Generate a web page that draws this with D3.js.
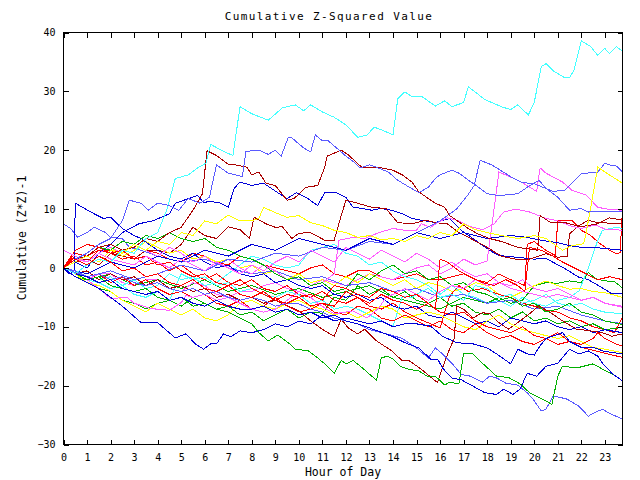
<!DOCTYPE html>
<html><head><meta charset="utf-8">
<script src="https://cdn.jsdelivr.net/npm/d3@7"></script>
<style>
body{margin:0;background:#fff}
svg{display:block;background:#fff}
text{font-family:"DejaVu Sans Mono","Liberation Mono",monospace;fill:#000}
</style>
</head><body>
<svg id="chart" width="640" height="480"></svg>
<script>
// ---- data: [hour, cumulative value] ----
const xTickValues = d3.range(0, 24);
const yTickValues = [-30,-20,-10,0,10,20,30,40];

const cyan1 = [[0,0],[0.5,-1],[1,0.5],[1.5,1.5],[2,1],[2.5,3],[3,2.5],[3.5,5],[4,6],[4.4,10],[4.75,15.2],[5.3,15.8],[5.7,17],[6.05,17.8],[6.25,21],[6.7,20],[7.2,19.1],[7.5,27.4],[8,26.2],[8.7,25.1],[9.3,27.2],[9.85,27.7],[10.2,26.7],[10.5,27.7],[11,26.5],[11.5,25.6],[12,24.3],[12.5,22.2],[12.9,22.6],[13.2,23.9],[13.5,23.5],[14,22.6],[14.2,28.7],[14.5,29.9],[14.8,29.1],[15.2,29.2],[15.8,27.5],[16.2,28.4],[16.5,27.4],[17,28.1],[17.2,30.8],[17.9,28.6],[18.6,27.4],[19,26.9],[19.3,27.7],[19.75,26],[20,28.1],[20.3,34.2],[20.5,34.7],[20.8,33.5],[21.3,32.3],[21.5,32.3],[21.7,33.7],[22,38.6],[22.4,37.6],[22.7,36.1],[23,37.3],[23.2,36.4],[23.5,37.6],[23.75,36.8]];
const cyan2 = [[0,0],[0.5,-1],[1,-0.5],[1.5,-2],[2,-1.5],[2.5,-3],[3,-2],[3.5,-3.5],[4,-3],[4.5,-1],[5,-2],[5.5,-1.5],[6,-3],[6.5,-2.5],[7,-1],[7.5,0.5],[8,2],[8.5,1.5],[9,0.5],[9.5,0],[10,0.5],[10.5,3],[11,3.5],[11.5,4],[12,2.5],[12.5,2],[13,0.5],[13.5,1],[14,-0.5],[14.5,-1.5],[15,-2],[15.5,-3],[16,-4.5],[16.5,-3],[17,-4.5],[17.5,-5],[18,-6],[18.5,-5.5],[19,-6.5],[19.5,-5],[20,-6],[20.5,-6.5],[21,-5.5],[21.5,-5],[21.9,-3.9],[22.3,0],[22.7,4.7],[22.9,6.4],[23.5,6.9],[23.75,6.7]];
const cyan3 = [[0,0],[0.5,-1],[1,-2],[1.5,-2.5],[2,-3.5],[2.5,-3],[3,-4.5],[3.5,-5],[4,-4],[4.5,-5.5],[5,-1],[5.5,-2],[6,-1.5],[6.5,-3],[7,-2.5],[7.5,-4],[8,-3.5],[8.5,-4.5],[9,-5],[9.5,-4],[10,-4.5],[10.5,-6],[11,-5.5],[11.5,-7],[12,-6.5],[12.5,-7],[13,-8],[13.5,-9],[14,-9.9],[14.4,-4.8],[14.8,-5],[15.2,-4],[15.5,-3.5],[16,-5],[16.5,-4.5],[17,-5.5],[17.5,-3],[18,-3.5],[18.5,-5],[19,-4.5],[19.5,-6],[20,-5.5],[20.5,-4.5],[21,-6],[21.5,-6.5],[22,-6],[22.5,-7],[23,-7.5],[23.75,-7.8]];

const lightBlue1 = [[0,0],[0.5,1.5],[1,2.5],[1.5,4],[2,5],[2.5,8],[2.8,11.5],[3.3,11],[3.6,9.8],[4,11],[4.5,10.6],[4.9,9.8],[5.3,11.8],[5.8,11],[6.2,12],[6.5,17.5],[7,16.1],[7.6,15.5],[7.75,19.8],[8.3,20],[8.7,19.3],[9,20],[9.25,19],[9.55,22.2],[9.7,22.1],[10.2,20.4],[10.5,19.7],[10.7,22.6],[11,21.6],[11.25,21.6],[12,19],[12.4,17.8],[12.6,17],[13,17.5],[13.3,17.1],[13.8,16.3],[14.2,14.9],[14.7,13.7],[15.1,12.8],[15.5,13.7],[15.8,15.2],[16,15.8],[16.5,16.6],[16.8,16.1],[17.2,14.9],[17.5,14.1],[18,12.6],[18.5,12.3],[19.3,12.6],[19.7,13.7],[20.2,14.9],[20.5,13.5],[21,12],[21.5,9.8],[22,10.1],[22.3,9.5],[23,9.6],[23.75,9.5]];
const lightBlue2 = [[0,0],[1,-1.5],[2,-0.5],[3,-2],[4,-1],[5,0.5],[6,-0.5],[7,1.5],[8,1],[9,2.5],[10,2],[11,3.5],[12,3],[13,4.5],[14,4],[15,6],[16,8],[16.7,10],[17.2,12.5],[17.45,14],[17.7,18.3],[18.2,17.5],[19,15.5],[19.5,14.5],[20,14.3],[20.5,13.5],[20.8,13],[21.3,13.2],[21.6,14.4],[22,16],[22.7,16.3],[23,17.8],[23.2,17.5],[23.5,17.3],[23.75,16.3]];
const lightBlue3 = [[0,0],[0.5,-0.5],[1,-1.5],[1.5,-1],[2,-2],[2.5,-1.5],[3,-2.5],[3.5,-3],[4,-2.5],[4.5,-3.5],[5,-4],[5.5,-3.5],[6,-4.5],[6.5,-4],[7,-5],[7.5,-5.5],[8,-5],[8.5,-5.5],[9,-6.5],[9.5,-6],[10,-6.1],[10.5,-7],[11,-7.5],[11.5,-8.5],[12,-9],[12.5,-9.5],[13,-10.5],[13.5,-11],[14,-11.5],[14.4,-12],[15,-13.6],[15.5,-15.3],[15.8,-13.6],[16.1,-14.6],[16.5,-16.2],[16.9,-18.1],[17.3,-18.4],[17.8,-19.4],[18.1,-18.4],[18.4,-18.7],[18.8,-19.6],[19.3,-19.9],[19.7,-21.2],[19.95,-22.3],[20.3,-24.3],[20.5,-24],[20.8,-21.8],[21.1,-22],[21.4,-22.3],[21.9,-23.5],[22.3,-25.2],[22.5,-24.7],[22.9,-24],[23.2,-24.7],[23.75,-25.7]];
const lightBlue4 = [[0,7.5],[0.3,6.7],[0.6,5.2],[1,6],[1.3,6.9],[1.8,6],[2,5.2],[2.5,5],[2.8,3.5],[3.3,3],[4,2],[5,1],[6,1.5],[7,0],[8,-1],[9,-0.5],[10,-2],[11,-1.5],[12,-3],[13,-2.5],[14,-4],[15,-3.5],[16,-5],[17,-4.5],[18,-6],[19,-5.5],[20,-7],[21,-6.5],[22,-8],[23,-9],[23.75,-9.5]];

const darkRed1 = [[0,0],[0.5,1.5],[1,2],[1.5,3.5],[2,4],[2.5,3],[3,3.5],[3.5,5],[4,4.5],[4.5,6],[5,6.9],[5.5,9.8],[5.9,12.6],[6.1,19.9],[6.5,19.1],[7,17.6],[7.3,17.5],[7.8,17.1],[8,15.8],[8.3,16.3],[8.6,14.4],[9,14],[9.5,11.5],[9.8,11.8],[10.3,13.7],[10.8,14],[11.1,17.1],[11.2,19],[11.8,20],[12.1,19.2],[12.4,18.1],[12.7,17],[13,17.1],[13.4,17.1],[14,16.6],[14.4,15.8],[14.8,14.6],[15.1,12.9],[15.5,11.8],[15.8,11],[16.2,10.3],[16.4,8.9],[16.7,8.1],[17.2,6.7],[17.6,5.8],[18.1,5],[18.6,4.5],[19.3,3.5],[19.8,3.2],[20.15,3],[20.25,8.9],[20.7,7.7],[21.3,7.7],[22,7],[22.7,7.5],[23.2,8.5],[23.75,8.1]];
const darkRed2 = [[0,0],[0.5,1],[1,1.5],[1.5,0.5],[2,2.5],[2.5,2],[3,1.5],[3.5,3],[4,3],[4.5,2.5],[5,4],[5.5,6.9],[6,5.5],[6.5,5],[7,7],[7.5,6.5],[7.9,5],[8.1,8.6],[8.6,7.5],[9,6.9],[9.3,7],[9.7,5],[10,5.9],[10.5,6],[11.1,4.7],[11.5,4.7],[11.8,8.9],[12,11.5],[12.4,11.1],[13.1,10.3],[13.7,10.1],[14.2,7.7],[14.8,7.5],[15.4,8.1],[15.8,7.7],[16.3,7.5],[16.8,6],[17.3,5],[18,3.5],[18.6,2],[19.3,1.4],[19.8,1.5],[20.5,2.4],[21,1.8],[21.4,2],[21.5,5.8],[21.9,7.2],[22.3,8.1],[22.7,7.7],[23.3,7.6],[23.75,7.6]];
const darkRed3 = [[0,0],[0.5,-1],[1,-0.5],[1.5,-2],[2,-1],[2.5,-2],[3,-1.5],[3.5,-3],[4,-2],[4.5,-3.5],[5,-3],[5.5,-4],[6,-3.5],[6.5,-5],[7,-4.5],[7.5,-5.5],[8,-5],[8.5,-6],[9,-5.5],[9.5,-6.4],[10,-7.3],[10.5,-9],[11.1,-10.7],[11.5,-11.6],[11.8,-8.7],[12.1,-10.2],[12.5,-11.2],[12.8,-10.4],[13.3,-12.4],[13.95,-14.1],[14.4,-15.8],[14.7,-15.8],[15.2,-17.2],[15.8,-19.2],[15.9,-19.4],[16.1,-17],[16.4,-13.8],[16.6,-12],[16.7,-6.4],[17,-7],[17.4,-8.5],[17.8,-7.6],[18.1,-7.8],[18.5,-9.3],[18.9,-10.4],[19.3,-9.3],[19.8,-7.8],[20.2,-6.4],[20.7,-7.6],[21.2,-9],[21.8,-10.4],[22.4,-10.7],[22.9,-11],[23.3,-11.6],[23.75,-11.2]];

const blue1 = [[0,0],[0.5,1],[1,0],[1.5,2.5],[2,4],[2.5,6],[3.2,7.5],[3.8,8],[4.5,9.2],[4.75,11],[5.7,12.3],[5.95,11.1],[6.2,11.3],[6.6,11.1],[7,10.3],[7.25,13.5],[7.5,14.6],[8,14],[8.5,14.4],[9.1,12.8],[9.5,11.8],[9.9,12.8],[10.3,12],[10.8,10.6],[11.1,12.8],[11.6,12.8],[12,12],[12.3,10.3],[12.7,10.1],[13.1,9.8],[13.5,10.1],[13.95,9.8],[14.4,9.2],[14.8,8.4],[15.2,8.1],[15.8,7.7],[16.4,8.4],[16.9,6.4],[17.5,4.7],[18.1,3],[18.5,2.1],[19.3,1.8],[20,1.5],[20.5,1.6],[21.3,-0.1],[21.9,-1.6],[22.3,-2],[22.9,-3.4],[23.3,-4.4],[23.75,-4.4]];
const blue2 = [[0,0],[0.25,-1],[0.45,-0.5],[0.5,11],[0.9,10.1],[1.3,9.2],[1.7,8.4],[2,8.6],[2.5,6.7],[3,5.5],[3.3,5],[3.6,4.1],[4,3],[4.5,2],[5,1.5],[5.5,2.5],[6,1],[6.5,0],[7,0.5],[7.5,-1],[8,-1.5],[8.5,-1],[9,-2.5],[9.5,-2],[10,-3],[10.5,-3.5],[11,-3],[11.5,-4.5],[12,-5],[12.5,-4.5],[13,-5.5],[13.5,-5],[14,-6.5],[14.5,-7],[15,-6.5],[15.5,-8],[16,-8.5],[16.5,-7.5],[17,-8.5],[17.5,-9.5],[18,-9],[18.5,-10],[19,-8.5],[19.5,-9],[20,-9.5],[20.5,-9],[21,-10],[21.5,-10.5],[22,-10],[22.5,-11],[23,-10.5],[23.75,-11]];
const blue3 = [[0,0],[1,-1],[2,1],[3,0],[4,2],[5,1],[6,3],[7,2],[8,4],[9,3],[10,5],[11,4],[12,3],[13,5],[14,4],[15,6],[16,5],[17,6],[18,5],[19,5.5],[19.7,5.2],[20.3,4.7],[21,4.3],[21.5,3.8],[22,3.5],[22.5,3.5],[23,3.3],[23.75,3]];
const blue4 = [[0,0],[0.5,-1],[1,-1.5],[1.5,-2.5],[2,-2],[2.5,-3.5],[3,-4],[3.5,-4.5],[4,-4],[4.5,-5.5],[5,-5],[5.5,-6],[6,-6.5],[6.5,-5.5],[7,-6.5],[7.5,-7],[8,-7],[8.5,-6.5],[9,-7.5],[9.5,-7],[10,-8],[10.5,-7.5],[11,-8.5],[11.5,-8],[12,-9],[12.5,-9.5],[13,-10.2],[13.95,-11.6],[14.5,-12.7],[15.1,-13.6],[15.6,-15.5],[15.9,-15.5],[16.1,-17],[16.5,-18.7],[16.9,-19],[17.4,-20.1],[17.9,-21.2],[18.4,-21.5],[18.7,-20.6],[19.1,-21.5],[19.4,-20.6],[19.7,-17.9],[20.1,-18.4],[20.5,-16.7],[21,-16.2],[21.5,-13.8],[21.9,-14.6],[22.3,-14.1],[22.7,-15],[22.9,-16.2],[23.3,-17.9],[23.75,-19.2]];
const blue5 = [[0,0],[0.5,-1.5],[1,-2.5],[1.5,-3.5],[2,-5],[2.5,-6.5],[3.3,-9.3],[4,-9.3],[4.75,-11.9],[5.2,-11.2],[5.6,-12.9],[5.95,-13.8],[6.25,-12.9],[6.5,-12.9],[6.8,-11.2],[7.1,-11.7],[7.5,-10.7],[8,-11],[8.5,-10.5],[9,-9.5],[9.5,-10],[10,-9],[10.5,-9.5],[11,-8],[11.5,-9],[12,-8.5],[12.5,-9],[13,-9.5],[13.5,-9],[14,-10],[14.5,-9.5],[15,-9.5],[15.6,-9.9],[16.1,-11.6],[16.7,-12.7],[17.4,-12.9],[18,-13.6],[18.4,-14.6],[19,-16.3],[19.3,-13.8],[19.7,-14.6],[20,-14.8],[20.25,-13.2],[20.5,-12],[21.2,-11],[21.5,-12.5],[22,-13.5],[22.5,-13.5],[23,-14.2],[23.75,-14.6]];

const yellow1 = [[0,0],[0.5,1],[1,2],[1.5,1],[2,3],[2.5,2.5],[3,4],[3.5,3],[4,4.5],[4.5,4],[5,6],[5.5,5.5],[6,8],[6.5,7.5],[7,9],[7.5,8],[8,8],[8.3,8.4],[8.5,10.3],[9,9.4],[9.5,8.6],[10,8.9],[10.5,7.7],[11,7.2],[11.5,6.4],[12,6],[12.5,5.2],[13,5.5],[13.5,4.8],[14,5],[14.5,4.5],[15,5.5],[15.5,5],[16,6],[16.5,5.5],[17,7.5],[17.5,6.5],[18,6],[18.6,5.5],[19.3,5],[20,5.5],[20.5,5],[21.2,3],[21.6,3.8],[22.1,4.1],[22.2,5.8],[22.7,17.1],[23,16.3],[23.75,14.4]];
const yellow2 = [[0,0],[0.5,1.5],[1,1],[1.5,2.5],[2,3.5],[2.5,2],[3,3],[3.5,4.5],[4,3.5],[4.5,2.5],[5,3],[5.5,1.5],[6,2],[6.5,1],[7,1.5],[7.5,0],[8,0.5],[8.5,-1],[9,-0.5],[9.5,-2],[10,-1],[10.5,-2.5],[11,-2],[11.5,-3],[12,-1.5],[12.5,-2.5],[13,-1],[13.5,-2],[14,-3],[14.5,-2],[15,-3.5],[15.5,-2.5],[16,-3],[16.5,-4],[17,-3.5],[17.5,-2.5],[18,-3],[18.5,-4.5],[19,-5],[19.5,-4],[20,-3],[20.5,-2.2],[21,-3],[21.5,-3.6],[22,-3.5],[22.5,-4],[23,-4.2],[23.75,-5]];
const yellow3 = [[0,0],[0.5,-1],[1,-2.5],[1.5,-3],[2,-4],[2.5,-5.5],[3,-6.5],[3.5,-7.5],[4,-6],[4.5,-7],[5,-8],[5.5,-7],[6,-8.5],[6.5,-9],[7,-8],[7.5,-6],[8,-5.5],[8.5,-6.5],[9,-7],[9.5,-6],[10,-5.5],[10.5,-6.5],[11,-7],[11.5,-8],[12,-7.5],[12.5,-8.5],[13,-7.5],[13.5,-6.5],[14,-7],[14.5,-8.5],[15,-8],[15.5,-7.5],[16,-8],[16.5,-9],[17,-10],[17.5,-10.5],[18,-9],[18.5,-8],[19,-9.5],[19.5,-10.5],[20,-11],[20.5,-11.5],[21,-12],[21.5,-11.5],[22,-12.5],[22.5,-13.5],[23,-13.8],[23.75,-14.4]];

const magenta1 = [[0,0],[0.5,-1],[1,-2],[1.5,-1],[2,-1],[2.5,-2.5],[3,-3],[3.5,-2],[4,-2],[4.5,-3.5],[5,-4],[5.5,-2.5],[6,-3],[6.5,-4.5],[7,-5],[7.5,-4],[8,-4],[8.5,-3],[9,-2.5],[9.5,-3.5],[10,-4],[10.5,-3],[11,-2],[11.5,-2.5],[12,-3],[12.5,-2],[13,-1],[13.5,-1.5],[14,-2],[14.5,-1],[15,0],[15.5,0.5],[16,-1],[16.5,0],[17,1.5],[17.5,0.5],[18,1.2],[18.5,16.3],[19.3,14.9],[19.7,14],[20.1,13],[20.25,17],[20.5,16.1],[21.2,14.6],[21.6,13.2],[22.2,12.4],[22.7,10.3],[23.1,10],[23.75,9.8]];
const magenta2 = [[0,0],[0.5,1.5],[1,1],[1.5,2.5],[2,3.5],[2.5,2.5],[3,4],[3.5,3],[4,2],[4.5,3.5],[5,2.5],[5.5,1],[6,2],[6.5,0.5],[7,1.5],[7.5,0],[8,-1],[8.5,0.5],[9,-0.5],[9.5,-2],[10,-1.5],[10.5,-3],[11,-2.5],[11.5,-1],[11.7,4.7],[12.3,5.2],[12.8,5],[13.4,6],[14,6.7],[14.5,6.4],[15,6.4],[15.2,7.5],[15.6,6.9],[15.9,7.7],[16.3,8.5],[16.8,8],[17.3,7],[17.8,6.5],[18.3,7.5],[18.7,9.5],[19.2,10],[19.8,9.5],[20.5,8.4],[21,8],[21.5,7.2],[22,6.7],[22.6,7.3],[23,6.6],[23.75,6.4]];
const magenta3 = [[0,0],[0.5,-1],[1,-2],[1.5,-3.5],[2,-5.2],[2.7,-5],[3,-6],[3.7,-6.9],[4.5,-7.2],[5,-5.9],[5.2,-4.7],[5.5,-5],[6,-4.5],[6.5,-5.5],[7,-5],[7.5,-6],[8,-7],[8.5,-7.5],[9,-7],[9.5,-5.5],[10,-4],[10.5,-5],[10.8,-6],[11.5,-7.8],[12.3,-7.3],[12.9,-8.5],[13.4,-6.8],[13.7,-5],[14,-4.5],[14.5,-3.5],[15,-4.5],[15.5,-5.5],[16,-4],[16.5,-3],[17,-3.5],[17.5,-2],[18,-3],[18.5,-2.5],[19,-3.5],[19.5,-4],[20,-4.5],[20.5,-5],[21,-4.5],[21.5,-5],[22,-5.5],[22.5,-5],[23,-6],[23.75,-6.7]];
const magenta4 = [[0,3],[0.5,2],[1,1],[1.5,2.5],[2,1.5],[3,0.5],[3.5,2],[4,1],[4.5,0],[5,1.5],[5.5,0.5],[6,-0.5],[6.5,1],[7,0],[7.5,-1],[8,0.5],[8.5,-0.5],[9,1],[9.5,2],[10,1],[10.5,3],[11,2],[11.5,1],[12,3.5],[12.5,2.5],[13,1.5],[13.5,3],[14,2],[14.5,1],[15,2.5],[15.5,1.5],[16,0],[16.5,1],[17,-0.5],[17.5,-1.5],[18,-1],[18.5,-2.5],[19,-3],[19.5,-2],[20,-3.5],[20.5,-4],[21,-3.5],[21.5,-4.5],[22,-5.5],[22.5,-5],[23,-6],[23.75,-6.5]];

const green1 = [[0,0],[1,-2],[2,-1],[3,-3],[4,-2],[5,-3.5],[6,-2],[7,-4],[8,-3],[9,-4.5],[10,-3.5],[11,-5],[12,-4],[13,-3],[14,-5],[15,-6],[16,-7],[17,-5],[18,-6],[18.5,-5],[19,-6],[19.5,-5.5],[20,-3],[20.5,-2.5],[21,-2.6],[21.5,-2.2],[22,-2.5],[22.3,-0.8],[22.6,-1.8],[23,-2.2],[23.4,-2.3],[23.75,-3.4]];
const green2 = [[0,0],[0.5,-1.5],[1,-2],[1.5,-3.5],[2,-4],[2.5,-5.5],[3,-6],[3.5,-7],[4,-6],[4.5,-5.5],[5,-6.5],[5.5,-5],[6,-6],[6.5,-7],[7,-6.5],[7.5,-8],[8,-7.5],[8.5,-9],[9,-8],[9.5,-7],[10,-8.5],[10.5,-7.5],[11,-7.7],[11.5,-5],[12,-5.5],[12.5,-3],[13,-4.5],[13.5,-3.5],[14,-5],[14.5,-4],[15,-5.5],[15.5,-6],[16,-5],[16.5,-6.5],[17,-6],[17.5,-7.5],[18,-8],[18.5,-7],[19,-8.5],[19.5,-7.5],[20,-9],[20.5,-8.5],[21,-9.5],[21.5,-9],[22,-10],[22.5,-9.5],[23,-10.5],[23.75,-10.1]];
const green3 = [[0,0],[0.5,1],[1,2],[1.5,3.5],[2,3],[2.5,4.5],[3,4],[3.5,5.5],[4,5],[4.5,6],[5,5],[5.5,4.5],[6,5],[6.5,3.5],[7,3],[7.5,2],[8,1.5],[8.5,0.5],[9,-1],[9.5,-2],[10,-1.5],[10.5,-3],[11,-2.5],[11.5,-4],[12,-3.5],[12.5,-1],[13,-2],[13.5,-0.5],[14,0.5],[14.5,-1],[15,-0.5],[15.5,-2],[16,-1.5],[16.5,-3],[17,-2.5],[17.5,-4],[18,-4.5],[18.5,-5.5],[19,-5],[19.5,-6.5],[20,-6],[20.5,-7.5],[21,-7],[21.5,-6],[22,-7.5],[22.5,-8],[23,-9],[23.75,-9.6]];
const green4 = [[0,0],[0.5,-1],[1,-2],[1.5,-1.5],[2,-3],[2.5,-3.5],[3,-4],[3.5,-3.5],[4,-5],[4.5,-5.5],[5,-5],[5.5,-6.5],[6,-6],[6.5,-7],[7,-7.5],[7.5,-8.5],[8,-9.5],[8.3,-11],[8.7,-12.4],[9.1,-11.4],[9.55,-12.7],[9.85,-13.8],[10.4,-14.1],[10.8,-15.3],[11.1,-16.3],[11.5,-17.9],[11.8,-15.7],[12,-16.3],[12.3,-15.7],[12.7,-17],[13.3,-19.1],[13.5,-15.3],[13.75,-15],[14,-15.5],[14.3,-16.7],[14.65,-17.2],[15.1,-17.5],[15.45,-18.4],[15.8,-18.4],[16.2,-19.9],[16.4,-19.4],[16.8,-19.7],[17,-14.5],[17.4,-14.6],[17.8,-16.2],[18.4,-18.4],[18.9,-18.6],[19.4,-19.7],[19.8,-21.2],[20.5,-22.6],[20.75,-23.2],[21,-18.4],[21.2,-16.7],[21.8,-17],[22.5,-16.3],[22.9,-17.2],[23.35,-18.1],[23.75,-19.2]];

const red1 = [[0,0],[0.5,2.5],[1,2],[1.5,3],[2,3],[2.5,2],[3,1.5],[3.5,3],[4,2.5],[4.5,1.5],[5,1],[5.5,2.5],[6,2],[6.5,1],[7,0.5],[7.5,2],[8,1.5],[8.5,0.5],[9,0],[9.5,-0.5],[10,-1],[10.5,0],[11,0.5],[11.5,-1],[12,-1.5],[12.5,-0.5],[13,-0.5],[13.5,-1.5],[14,-2],[14.5,-1.5],[15,-1],[15.5,-2],[16,-2],[16.5,-1.5],[17,-1],[17.5,-2],[18,-2.5],[18.5,-1],[19,-2],[19.6,-3],[19.7,4],[20,4.5],[20.5,3],[20.9,2.1],[21,8.1],[21.6,8.1],[22,6.4],[22.4,5.5],[22.8,4.1],[23.2,3],[23.5,2.4],[23.65,2.6],[23.75,10.1]];
const red2 = [[0,0],[0.5,2],[1,1],[1.5,3],[2,2.5],[2.5,1.5],[3,2],[3.5,0.5],[4,1],[4.5,-0.5],[5,0.5],[5.5,-1],[6,-2],[6.5,-1],[7,-2.5],[7.5,-3],[8,-2],[8.5,-3.5],[9,-4],[9.5,-3],[10,-4.5],[10.5,-5],[11,-4],[11.5,-5.5],[12,-6],[12.5,-5],[13,-6.5],[13.5,-7],[14,-6],[14.5,-7.5],[15,-8.5],[15.6,-9.5],[16,-10.2],[16.4,-4.8],[16.8,-3],[17.2,-4],[17.8,-3.5],[18.5,-4.5],[19,-5],[19.5,-6],[20,-6.5],[20.5,-7.2],[21,-7.5],[21.5,-8.5],[22,-9],[22.5,-10],[23,-10.5],[23.4,-11],[23.75,-8.4]];
const red3 = [[0,0],[0.5,-0.5],[1,-1.5],[1.5,-1],[2,-2.5],[2.5,-1.5],[3,-3],[3.5,-2],[4,-3.5],[4.5,-4.5],[5,-4],[5.5,-5],[6,-4.5],[6.5,-6],[7,-6.5],[7.5,-5.5],[8,-7],[8.5,-6.5],[9,-5],[9.5,-6.5],[10,-7.5],[10.5,-7],[11,-6],[11.5,-7.5],[12,-8],[12.5,-6.5],[13,-7],[13.5,-8.5],[14,-9],[14.5,-8],[15,-9],[15.5,-10],[16,-9],[16.5,-10.5],[17,-11],[17.5,-9.5],[18,-11],[18.5,-12],[19,-11.5],[19.5,-12.5],[20,-13],[20.5,-12],[21,-13],[21.5,-12.5],[22,-13.5],[22.5,-14],[23,-14.5],[23.75,-15.2]];
const red4 = [[0,0],[0.5,3],[1,4],[1.5,3.5],[2,2.5],[2.5,3],[3,1.5],[3.5,2],[4,0.5],[4.5,1],[5,-0.5],[5.5,-1.5],[6,-1],[6.5,-2.5],[7,-3],[7.5,-2],[8,-3.5],[8.5,-4.5],[9,-5.5],[9.5,-4.5],[10,-5],[10.5,-6.5],[11,-6],[11.5,-6.5],[12,-4],[12.5,-5],[13,-6],[13.5,-4.5],[14,-5.5],[14.5,-6],[15,-7],[15.5,-6],[16,-7.5],[16.5,-8],[17,-7.5],[17.5,-9],[18,-10],[18.5,-10.5],[19,-11],[19.5,-10],[20,-11.5],[20.5,-12],[21,-11],[21.5,-12.5],[22,-13],[22.5,-12],[22.7,-11],[23,-12],[23.5,-13],[23.75,-13.2]];
const red5 = [[0,0],[0.5,1.5],[1,0.5],[1.5,2],[2,1],[2.5,-0.5],[3,0],[3.5,-1.5],[4,-1],[4.5,-2.5],[5,-3],[5.5,-2],[6,-3.5],[6.5,-4],[7,-3],[7.5,-4.5],[8,-5],[8.5,-4],[9,-5.5],[9.5,-6],[10,-5],[10.5,-4.5],[11,-5.5],[11.5,-3],[12,-3.5],[12.5,-4.5],[13,-5],[13.5,-3.5],[14,-4],[14.5,-5],[15,-4.5],[15.5,-6],[15.8,-7],[16,1.5],[16.3,1],[16.8,-0.5],[17.3,-1.5],[17.8,-2.5],[18.3,-3],[18.8,-2],[19.3,-3],[19.6,-4],[19.8,3.5],[20.3,3],[20.8,2],[21.2,1],[21.7,0],[22.2,-1],[22.7,-2],[23.2,-1.5],[23.75,-2]];

// series list (data + colour)
const RED="#ff0000", GREEN="#00b000", BLUE="#0000d8", LBLUE="#5a5aff", MAG="#ff5cff", CYAN="#44ffff", YEL="#ffff00", DRED="#aa0000";
const series = [
  [red1,RED],[green1,GREEN],[blue1,BLUE],[magenta1,MAG],[cyan2,CYAN],[darkRed2,DRED],[yellow2,YEL],[lightBlue4,LBLUE],
  [red2,RED],[green2,GREEN],[blue2,BLUE],[magenta2,MAG],[cyan3,CYAN],[darkRed3,DRED],[yellow3,YEL],[lightBlue2,LBLUE],
  [red3,RED],[green3,GREEN],[blue3,BLUE],[magenta3,MAG],[darkRed1,DRED],[yellow1,YEL],[lightBlue3,LBLUE],
  [red4,RED],[green4,GREEN],[blue4,BLUE],[magenta4,MAG],[cyan1,CYAN],[lightBlue1,LBLUE],
  [red5,RED],[blue5,BLUE]
];

// ---- drawing ----
const svg = d3.select("#chart");
const L = 63.5, R = 622.5, T = 32.5, B = 444.5;
const x = d3.scaleLinear().domain([0, 23.75]).range([L, R]);
const y = d3.scaleLinear().domain([-30, 40]).range([B, T]);

svg.append("defs").append("clipPath").attr("id","clip")
  .append("rect").attr("x",L).attr("y",T).attr("width",R-L).attr("height",B-T);

const line = d3.line().x(d => x(d[0])).y(d => y(d[1]));
const g = svg.append("g").attr("clip-path","url(#clip)");
series.forEach(([data, color]) => {
  g.append("path").datum(data).attr("d", line)
    .attr("fill","none").attr("stroke",color).attr("stroke-width",1)
    .attr("shape-rendering","crispEdges");
});

function styleAxis(sel){
  sel.select(".domain").remove();
  sel.selectAll(".tick line").attr("stroke","#000").attr("shape-rendering","crispEdges");
  sel.selectAll(".tick text").attr("font-family","DejaVu Sans Mono, monospace").attr("font-size",10).attr("fill","#000");
}
svg.append("g").attr("transform",`translate(0,${B})`)
  .call(d3.axisBottom(x).tickValues(xTickValues).tickFormat(d3.format("d")).tickSizeInner(-5).tickSizeOuter(0).tickPadding(9))
  .call(styleAxis);
svg.append("g").attr("transform",`translate(0,${T})`)
  .call(d3.axisTop(x).tickValues(xTickValues).tickFormat("").tickSizeInner(-5).tickSizeOuter(0))
  .call(styleAxis);
svg.append("g").attr("transform",`translate(${L},0)`)
  .call(d3.axisLeft(y).tickValues(yTickValues).tickFormat(d3.format("d")).tickSizeInner(-5).tickSizeOuter(0).tickPadding(8))
  .call(styleAxis);
svg.append("g").attr("transform",`translate(${R},0)`)
  .call(d3.axisRight(y).tickValues(yTickValues).tickFormat("").tickSizeInner(-5).tickSizeOuter(0))
  .call(styleAxis);

svg.append("rect").attr("x",L).attr("y",T).attr("width",R-L).attr("height",B-T)
  .attr("fill","none").attr("stroke","#000").attr("shape-rendering","crispEdges");

svg.append("text").attr("x",329).attr("y",20).attr("text-anchor","middle")
  .attr("font-size",11).attr("letter-spacing",1.4).text("Cumulative Z-Squared Value");
svg.append("text").attr("x",343).attr("y",476).attr("text-anchor","middle")
  .attr("font-size",11.5).text("Hour of Day");
svg.append("text").attr("transform","translate(26,238) rotate(-90)").attr("text-anchor","middle")
  .attr("font-size",11.5).text("Cumulative (Z*Z)-1");
</script>
</body></html>
